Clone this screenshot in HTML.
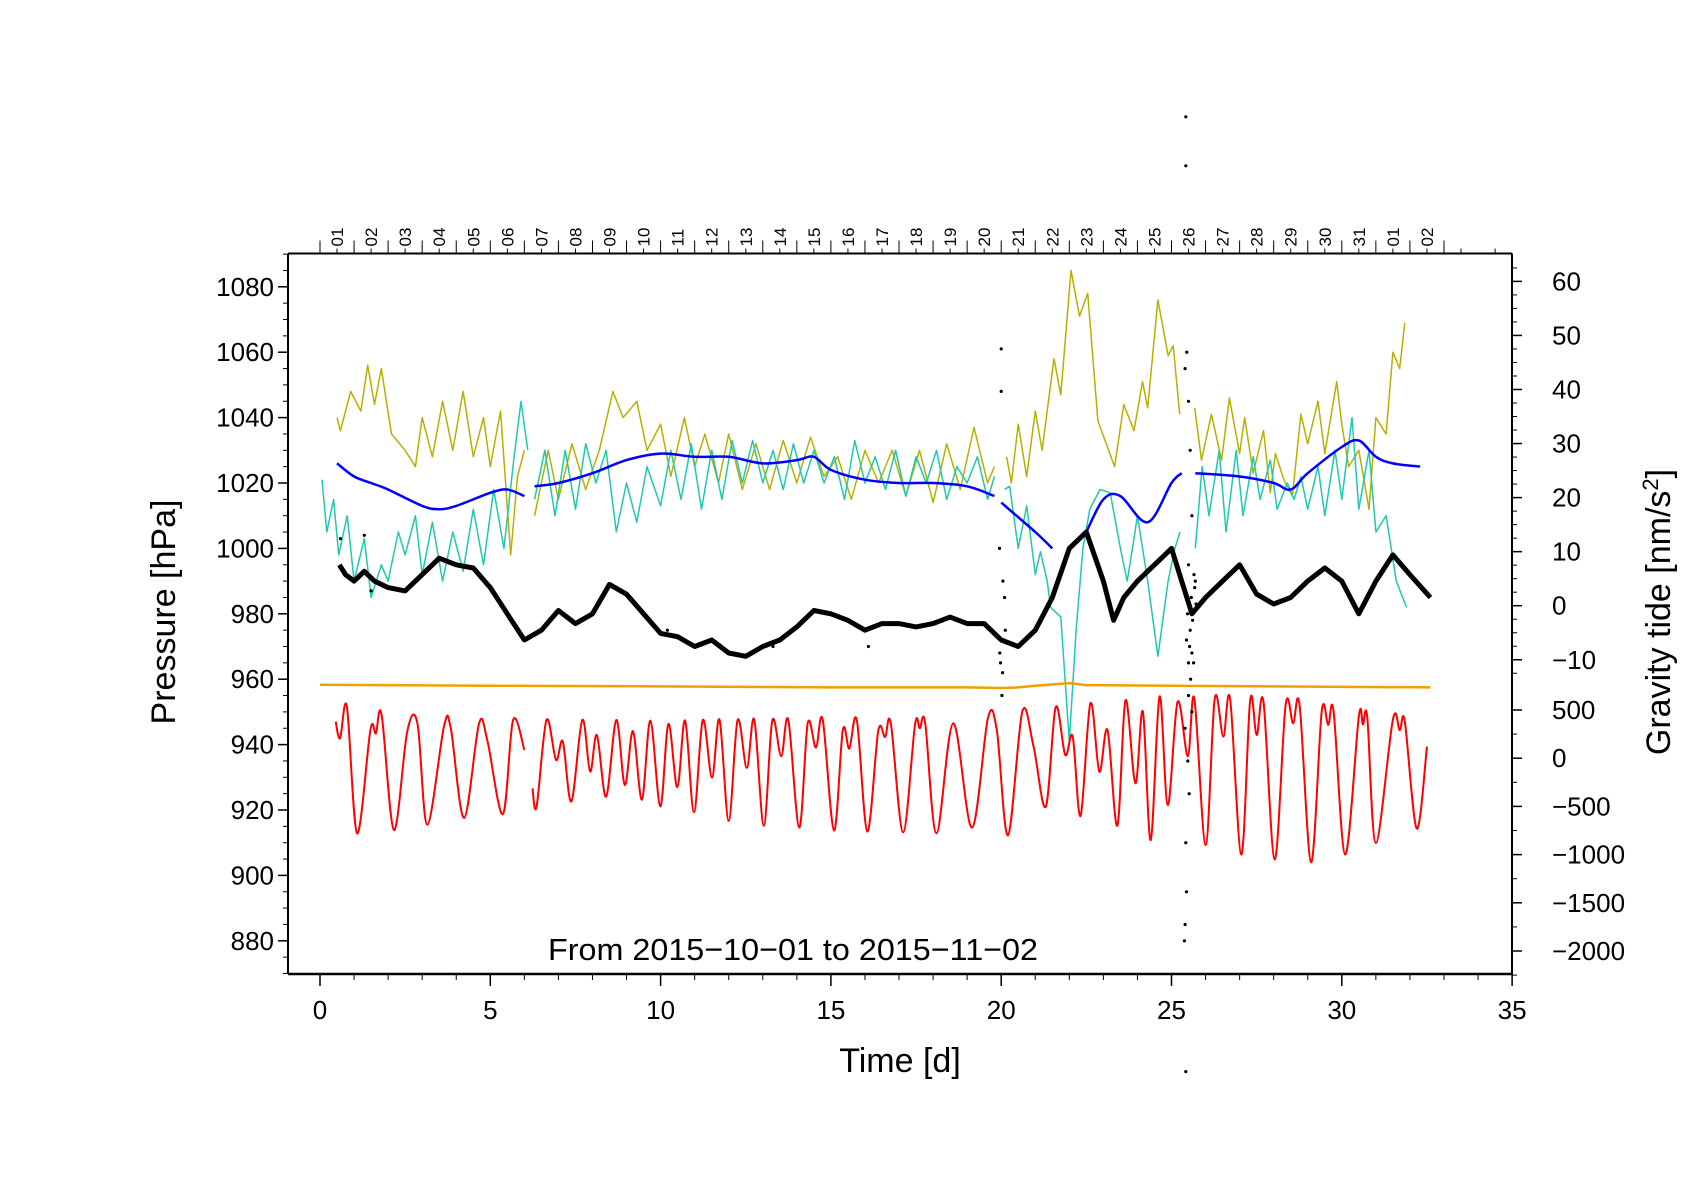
<!DOCTYPE html>
<html><head><meta charset="utf-8"><style>
html,body{margin:0;padding:0;background:#fff;}
svg{display:block;font-family:"Liberation Sans",sans-serif;}
</style></head><body>
<svg id="chart" width="1684" height="1190" viewBox="0 0 1684 1190" xmlns="http://www.w3.org/2000/svg">
<g id="marks"></g>
<g id="axes"></g>
<text x="793" y="960" font-size="31" text-anchor="middle" textLength="490" lengthAdjust="spacingAndGlyphs">From 2015−10−01 to 2015−11−02</text>
<text x="900" y="1072" font-size="34" text-anchor="middle">Time [d]</text>
<text x="0" y="0" font-size="34" text-anchor="middle" transform="translate(175,612) rotate(-90)">Pressure [hPa]</text>
<text x="0" y="0" font-size="34" text-anchor="middle" transform="translate(1670,612) rotate(-90)">Gravity tide [nm/s<tspan font-size="22" dy="-12">2</tspan><tspan dy="12">]</tspan></text>
</svg>
<script>
// ---------- data ----------
const pressureT = [0.57,0.75,1,1.3,1.6,2,2.5,3,3.5,4,4.5,5,5.5,6,6.5,7,7.5,8,8.5,9,9.5,10,10.5,11,11.5,12,12.5,13,13.5,14,14.5,15,15.5,16,16.5,17,17.5,18,18.5,19,19.5,20,20.5,21,21.5,22,22.5,23,23.3,23.6,24,24.5,25,25.3,25.6,26,26.5,27,27.5,28,28.5,29,29.5,30,30.5,31,31.5,32,32.6];
const pressureV = [995,992,990,993,990,988,987,992,997,995,994,988,980,972,975,981,977,980,989,986,980,974,973,970,972,968,967,970,972,976,981,980,978,975,977,977,976,977,979,977,977,972,970,975,985,1000,1005,990,978,985,990,995,1000,990,980,985,990,995,986,983,985,990,994,990,980,990,998,992,985];

const blueT1 = [0.5,1,1.5,2,3,3.5,4,5,5.5,6];
const blueV1 = [1026,1022,1020,1018,1013,1012,1013,1017,1018,1016];
const blueT2 = [6.3,7,8,9,10,11,12,13,14,14.5,15,16,17,18,19,19.8];
const blueV2 = [1019,1020,1023,1027,1029,1028,1028,1026,1027,1028,1024,1021,1020,1020,1019,1016];
const blueT3 = [20,21,21.5];
const blueV3 = [1014,1005,1000];
const blueT4 = [22.5,23,23.5,24.3,25,25.3];
const blueV4 = [1005,1015,1016,1008,1020,1023];
const blueT5 = [25.7,27,28,28.5,29,30,30.5,31,31.5,32.3];
const blueV5 = [1023,1022,1020,1018,1023,1031,1033,1028,1026,1025];

const oliveT1 = [0.5,0.6,0.9,1.2,1.4,1.6,1.8,2.1,2.5,2.8,3.0,3.3,3.6,3.9,4.2,4.5,4.8,5.0,5.3,5.6,5.8,6.0];
const oliveV1 = [1040,1036,1048,1042,1056,1044,1055,1035,1030,1025,1040,1028,1045,1030,1048,1028,1040,1025,1042,998,1022,1030];
const oliveT2 = [6.3,6.7,7,7.4,7.8,8.2,8.6,8.9,9.3,9.6,10,10.3,10.7,11,11.3,11.7,12,12.4,12.8,13.2,13.6,14,14.4,14.8,15.2,15.6,16,16.4,16.8,17.2,17.6,18,18.4,18.8,19.2,19.6,19.8];
const oliveV2 = [1010,1030,1015,1032,1018,1030,1048,1040,1045,1030,1038,1022,1040,1025,1035,1020,1035,1018,1032,1018,1033,1020,1034,1022,1028,1015,1030,1020,1030,1016,1030,1014,1032,1018,1037,1020,1025];
const oliveT3 = [20.16,20.3,20.5,20.75,21.0,21.2,21.55,21.75,22.05,22.3,22.54,22.84,23.33,23.6,23.9,24.15,24.3,24.6,24.9,25.05,25.24];
const oliveV3 = [1028,1020,1038,1022,1042,1030,1058,1047,1085,1071,1078,1039,1025,1044,1036,1051,1043,1076,1059,1062,1041];
const oliveT4 = [25.68,25.88,26.17,26.47,26.7,27,27.15,27.4,27.7,27.9,28.05,28.3,28.55,28.8,29,29.3,29.5,29.85,30,30.2,30.5,30.8,31,31.3,31.5,31.7,31.85];
const oliveV4 = [1043,1027,1041,1027,1046,1029,1040,1023,1036,1017,1029,1021,1016,1041,1032,1045,1029,1051,1038,1025,1030,1012,1040,1035,1060,1055,1069];

const cyanT1 = [0.06,0.2,0.4,0.55,0.8,1.0,1.3,1.5,1.8,2.0,2.3,2.5,2.8,3.0,3.3,3.6,3.9,4.2,4.5,4.8,5.1,5.4,5.7,5.9,6.1];
const cyanV1 = [1021,1005,1015,998,1010,990,1003,985,995,990,1005,998,1010,992,1008,990,1005,993,1012,995,1018,1000,1028,1045,1030];
const cyanT2 = [6.3,6.6,6.9,7.2,7.5,7.8,8.1,8.4,8.7,9.0,9.3,9.6,10,10.3,10.6,10.9,11.2,11.5,11.8,12.1,12.4,12.7,13,13.3,13.6,13.9,14.2,14.5,14.8,15.1,15.4,15.7,16,16.3,16.6,16.9,17.2,17.5,17.8,18.1,18.4,18.7,19,19.3,19.6,19.8];
const cyanV2 = [1015,1030,1010,1030,1012,1032,1020,1030,1005,1020,1008,1025,1013,1030,1015,1032,1012,1030,1015,1033,1020,1033,1020,1030,1018,1032,1020,1030,1020,1028,1015,1033,1020,1028,1018,1030,1016,1028,1020,1030,1015,1025,1020,1028,1015,1022];
const cyanT3 = [20.1,20.25,20.5,20.75,21.0,21.15,21.35,21.45,21.75,22.0,22.2,22.4,22.6,22.9,23.2,23.5,23.7,23.9,24.0,24.3,24.6,24.9,25.1,25.25];
const cyanV3 = [1018,1019,1000,1013,992,999,990,982,979,941,975,1000,1012,1018,1017,1000,990,1003,1010,990,967,990,1000,1005];
const cyanT4 = [25.7,25.9,26.1,26.4,26.6,26.9,27.1,27.4,27.6,27.9,28.1,28.4,28.6,28.8,29,29.3,29.5,29.8,30,30.3,30.5,30.8,31,31.3,31.6,31.9];
const cyanV4 = [1000,1025,1010,1030,1005,1030,1010,1028,1015,1027,1012,1020,1015,1022,1012,1025,1010,1030,1015,1040,1012,1030,1005,1010,990,982];

const orangeT = [0,5,10,15,19,20,20.5,21,22,22.5,25,28,32.6];
const orangeV = [958.3,958,957.8,957.5,957.5,957.3,957.5,958,958.8,958.2,958,957.8,957.5];

const tideT1 = [0.46,0.59,0.79,1.09,1.48,1.64,1.81,2.17,2.56,2.86,3.15,3.64,3.84,4.23,4.67,4.92,5.37,5.67,6.0];
const tideV1 = [380,206,534,-780,292,258,450,-745,275,362,-690,330,310,-620,362,172,-580,396,85];
const tideT2 = [6.24,6.36,6.65,6.93,7.13,7.38,7.70,7.93,8.13,8.40,8.70,8.95,9.19,9.45,9.70,9.99,10.23,10.49,10.72,10.98,11.24,11.51,11.73,12.0,12.26,12.53,12.75,13.03,13.28,13.54,13.75,14.07,14.32,14.56,14.76,15.09,15.35,15.54,15.76,16.07,16.39,16.59,16.76,17.12,17.47,17.61,17.77,18.10,18.59,19.14,19.61,19.87,20.2,20.62,20.95,21.31,21.6,21.88,22.1,22.33,22.62,22.88,23.12,23.41,23.65,23.94,24.16,24.39,24.65,24.89,25.18,25.48,25.67,26.0,26.27,26.52,26.72,27.05,27.31,27.5,27.7,28.03,28.35,28.57,28.76,29.1,29.41,29.6,29.76,30.1,30.5,30.62,30.75,31.0,31.5,31.7,31.85,32.2,32.5];
const tideV2 = [-313,-503,396,-18,172,-449,396,-139,240,-399,396,-278,280,-430,390,-500,355,-300,390,-560,396,-200,400,-650,396,-100,400,-700,390,20,396,-720,362,110,400,-750,290,100,396,-760,280,220,362,-770,345,310,362,-780,362,-720,414,292,-800,483,119,-503,530,34,224,-600,570,-139,292,-700,600,-260,483,-850,640,-487,585,20,620,-900,620,224,615,-1000,605,240,585,-1050,550,362,550,-1080,483,345,483,-1000,430,350,420,-880,400,290,380,-730,120];

const dotT = [25.42,25.42,20.0,20.0,19.95,20.05,20.1,19.98,20.02,20.08,19.96,20.12,20.04,25.4,25.45,25.5,25.55,25.6,25.5,25.45,25.55,25.65,25.7,25.5,25.4,25.6,25.48,25.52,25.42,25.44,25.4,25.38,25.42,25.47,25.53,25.58,25.62,25.66,25.72,25.5,25.56,25.44,25.6,25.68,1.3,1.5,10.2,13.3,16.1,0.6];
const dotV = [1132,1117,1061,1048,1000,990,985,965,955,972,968,975,962,1055,1060,1045,1030,1010,995,985,975,965,990,955,945,950,935,925,910,895,885,880,840,980,970,985,978,992,983,965,960,972,968,988,1004,987,975,970,970,1003];

// ---------- scales ----------
const X = t => 320 + t * 34.06;
const YL = h => 286.8 + (1080 - h) * 3.27;
const YR1 = g => 605.7 - g * 5.405;
const YR2 = g => 758.2 - g * 0.0964;
const NS = 'http://www.w3.org/2000/svg';
const marks = document.getElementById('marks');
const axes = document.getElementById('axes');

function mk(tag, parent) { const e = document.createElementNS(NS, tag); parent.appendChild(e); return e; }

function line(ts, vs, yf, color, w, name) {
  const p = mk('path', marks);
  
  
  let d = '';
  ts.forEach((t, i) => { d += (i ? 'L' : 'M') + X(t).toFixed(1) + ',' + yf(vs[i]).toFixed(1); });
  p.setAttribute('d', d);
  p.setAttribute('fill', 'none');
  p.setAttribute('stroke', color);
  p.setAttribute('stroke-width', w);
  p.setAttribute('stroke-linejoin', 'round');
}
function smooth(ts, vs, yf, color, w, name) {
  const p = mk('path', marks);
  
  
  const pts = ts.map((t, i) => [X(t), yf(vs[i])]);
  let d = 'M' + pts[0][0].toFixed(1) + ',' + pts[0][1].toFixed(1);
  for (let i = 0; i < pts.length - 1; i++) {
    const p0 = pts[Math.max(0, i - 1)], p1 = pts[i], p2 = pts[i + 1], p3 = pts[Math.min(pts.length - 1, i + 2)];
    const c1x = p1[0] + (p2[0] - p0[0]) / 6, c1y = p1[1] + (p2[1] - p0[1]) / 6;
    const c2x = p2[0] - (p3[0] - p1[0]) / 6, c2y = p2[1] - (p3[1] - p1[1]) / 6;
    d += 'C' + c1x.toFixed(1) + ',' + c1y.toFixed(1) + ' ' + c2x.toFixed(1) + ',' + c2y.toFixed(1) + ' ' + p2[0].toFixed(1) + ',' + p2[1].toFixed(1);
  }
  p.setAttribute('d', d);
  p.setAttribute('fill', 'none');
  p.setAttribute('stroke', color);
  p.setAttribute('stroke-width', w);
}

line(oliveT1, oliveV1, YL, '#b8b000', 1.5, 'olive-series-seg1');
line(oliveT2, oliveV2, YL, '#b8b000', 1.5, 'olive-series-seg2');
line(oliveT3, oliveV3, YL, '#b8b000', 1.5, 'olive-series-seg3');
line(oliveT4, oliveV4, YL, '#b8b000', 1.5, 'olive-series-seg4');
line(cyanT1, cyanV1, YL, '#20c8b0', 1.5, 'cyan-series-seg1');
line(cyanT2, cyanV2, YL, '#20c8b0', 1.5, 'cyan-series-seg2');
line(cyanT3, cyanV3, YL, '#20c8b0', 1.5, 'cyan-series-seg3');
line(cyanT4, cyanV4, YL, '#20c8b0', 1.5, 'cyan-series-seg4');
smooth(blueT1, blueV1, YL, '#0000ff', 2.5, 'blue-series-seg1');
smooth(blueT2, blueV2, YL, '#0000ff', 2.5, 'blue-series-seg2');
smooth(blueT3, blueV3, YL, '#0000ff', 2.5, 'blue-series-seg3');
smooth(blueT4, blueV4, YL, '#0000ff', 2.5, 'blue-series-seg4');
smooth(blueT5, blueV5, YL, '#0000ff', 2.5, 'blue-series-seg5');
line(orangeT, orangeV, YL, '#f0a000', 2.5, 'orange-series');
smooth(tideT1, tideV1, YR2, '#ff0000', 2, 'gravity-tide-seg1');
smooth(tideT2, tideV2, YR2, '#ff0000', 2, 'gravity-tide-seg2');
line(pressureT, pressureV, YL, '#000000', 5, 'pressure-series');
dotT.forEach((t, i) => {
  const c = mk('circle', marks);
  
  
  c.setAttribute('cx', X(t).toFixed(1));
  c.setAttribute('cy', YL(dotV[i]).toFixed(1));
  c.setAttribute('r', 1.6);
});

// ---------- axes ----------
const L = 288, R = 1512, T = 253.5, B = 974;
function seg(x1, y1, x2, y2, w, name) {
  const l = mk('line', axes);
  
  
  l.setAttribute('x1', x1); l.setAttribute('y1', y1); l.setAttribute('x2', x2); l.setAttribute('y2', y2);
  l.setAttribute('stroke', '#000'); l.setAttribute('stroke-width', w);
}
function txt(x, y, s, size, anchor, name, rot) {
  const e = mk('text', axes);
  
  
  e.setAttribute('font-size', size);
  e.setAttribute('text-anchor', anchor);
  if (rot) { e.setAttribute('transform', 'translate(' + x + ',' + y + ') rotate(-90)'); }
  else { e.setAttribute('x', x); e.setAttribute('y', y); }
  e.textContent = s;
}
seg(L, T, R, T, 2, 'frame-top');
seg(L, B, R, B, 2.5, 'frame-bottom');
seg(L, T, L, B, 2, 'frame-left');
seg(R, T, R, B, 2, 'frame-right');

const xTicks = [0, 5, 10, 15, 20, 25, 30, 35];
xTicks.forEach(v => { seg(X(v), B, X(v), B + 12, 1.5, 'x-major-tick'); txt(X(v), B + 45, String(v), 26, 'middle', 'x-tick-label'); });
for (let v = 0; v <= 35; v++) seg(X(v), B, X(v), B + 6, 1, 'x-minor-tick');

const dayLabels = ['01','02','03','04','05','06','07','08','09','10','11','12','13','14','15','16','17','18','19','20','21','22','23','24','25','26','27','28','29','30','31','01','02'];
dayLabels.forEach((s, i) => { txt(X(i + 0.5) + 6, T - 7, s, 17, 'start', 'top-day-label', true); });
for (let d = 0; d <= 33; d++) seg(X(d), T, X(d), T - 13, 1, 'top-day-tick');
for (let d = 0; d < 35; d++) seg(X(d + 0.5), T, X(d + 0.5), T - 5, 1, 'top-half-tick');

const leftTicks = [880, 900, 920, 940, 960, 980, 1000, 1020, 1040, 1060, 1080];
leftTicks.forEach(v => { seg(L, YL(v), L - 10, YL(v), 1.5, 'left-major-tick'); txt(L - 14, YL(v) + 9, String(v), 26, 'end', 'left-tick-label'); });
for (let v = 870; v <= 1090; v += 5) seg(L, YL(v), L - 5, YL(v), 1, 'left-minor-tick');

const rightTop = [60, 50, 40, 30, 20, 10, 0, -10];
rightTop.forEach(v => { seg(R, YR1(v), R + 10, YR1(v), 1.5, 'right-upper-major-tick'); txt(R + 40, YR1(v) + 9, String(v).replace('-', '−'), 26, 'start', 'right-upper-tick-label'); });
for (let v = -12.5; v <= 62.5; v += 2.5) seg(R, YR1(v), R + 5, YR1(v), 1, 'right-upper-minor-tick');
const rightBot = [500, 0, -500, -1000, -1500, -2000];
rightBot.forEach(v => { seg(R, YR2(v), R + 10, YR2(v), 1.5, 'right-lower-major-tick'); txt(R + 40, YR2(v) + 9, String(v).replace('-', '−'), 26, 'start', 'right-lower-tick-label'); });
for (let v = -2250; v <= 500; v += 250) seg(R, YR2(v), R + 5, YR2(v), 1, 'right-lower-minor-tick');
</script>
</body></html>
